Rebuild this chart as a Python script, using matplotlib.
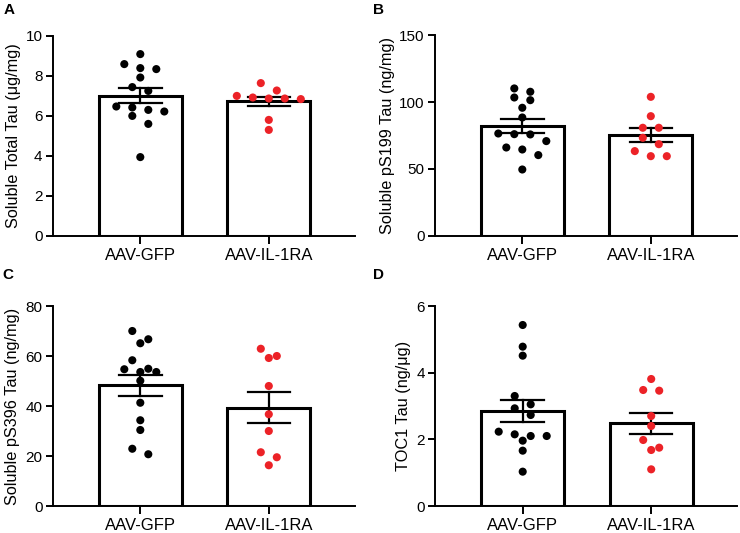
import numpy as np
import matplotlib.pyplot as plt

plt.rcParams['font.family'] = ['Liberation Sans', 'DejaVu Sans']

groups = ['AAV-GFP', 'AAV-IL-1RA']

# Panel A - soluble total tau (ug/mg)
total_gfp = [9.07, 8.57, 8.37, 8.32, 7.9, 7.42, 7.23, 6.45, 6.4, 6.28, 6.2, 5.98, 5.58, 3.92]
total_il = [7.62, 7.25, 6.98, 6.9, 6.85, 6.85, 6.82, 5.78, 5.28]

# Panel B - soluble pS199 tau (ng/mg)
ps199_gfp = [110.3, 107.8, 103.5, 101.5, 95.8, 88.5, 76.5, 76.0, 75.8, 70.8, 66.0, 64.5, 60.3, 49.5]
ps199_il = [104.0, 89.5, 80.8, 80.8, 73.3, 68.5, 63.3, 59.5, 59.5]

# Panel C - soluble pS396 tau (ng/mg)
ps396_gfp = [70.0, 66.7, 65.1, 58.3, 54.9, 54.7, 53.6, 53.6, 50.1, 41.3, 34.3, 30.4, 22.9, 20.7]
ps396_il = [62.9, 60.0, 59.2, 48.0, 36.7, 30.0, 21.5, 19.5, 16.3]

# Panel D - TOC1 tau (ng/ug)
toc1_gfp = [5.43, 4.78, 4.51, 3.3, 3.05, 2.93, 2.73, 2.23, 2.15, 2.1, 2.1, 1.96, 1.66, 1.03]
toc1_il = [3.81, 3.48, 3.46, 2.7, 2.4, 1.98, 1.75, 1.68, 1.1]

panels = [
    ('A', 'Soluble Total Tau (\u03bcg/mg)', total_gfp, total_il, 10, 2),
    ('B', 'Soluble pS199 Tau (ng/mg)', ps199_gfp, ps199_il, 150, 50),
    ('C', 'Soluble pS396 Tau (ng/mg)', ps396_gfp, ps396_il, 80, 20),
    ('D', 'TOC1 Tau (ng/\u03bcg)', toc1_gfp, toc1_il, 6, 2),
]

W, H = 740, 533
RED = '#EC2227'
XLIM = (-0.68, 1.67)
SPACING = 128.5          # px between the two bar centres
AX_H = 200               # axes height in px

# layout in pixels: first bar centre x, bottom y, ylabel right edge x, letter position
layout = {
    'A': (140.3, 235.5, 21, (9, 10)),
    'B': (522.3, 235.5, 395, (378, 10)),
    'C': (140.3, 506.0, 20, (8, 275)),
    'D': (522.7, 506.0, 411, (378, 275)),
}


def swarm_offsets(values, px_per_unit, row_px=8.5, gap=0.1245):
    # group points into rows (prism style) and centre each row
    values = np.asarray(values)
    order = np.argsort(values)[::-1]
    offsets = np.zeros(len(values))
    i = 0
    while i < len(order):
        top = values[order[i]]
        row = [order[i]]
        j = i + 1
        while j < len(order) and (top - values[order[j]]) * px_per_unit < row_px:
            row.append(order[j])
            j += 1
        n = len(row)
        for k, idx in enumerate(row):
            offsets[idx] = (k - (n - 1) / 2) * gap
        i = j
    return offsets


fig = plt.figure(figsize=(W / 100, H / 100), dpi=100)

for letter, ylabel, gfp, il, ymax, ystep in panels:
    c1, ybot, ylab_x, (lx, ly) = layout[letter]
    left = c1 - (0 - XLIM[0]) * SPACING
    width = (XLIM[1] - XLIM[0]) * SPACING
    ax = fig.add_axes([left / W, (H - ybot) / H, width / W, AX_H / H])

    px_per_unit = AX_H / ymax
    for i, (vals, col) in enumerate([(gfp, 'black'), (il, RED)]):
        vals = np.asarray(vals)
        mean = vals.mean()
        sem = vals.std(ddof=1) / np.sqrt(len(vals))
        ax.bar(i, mean, width=0.645, color='white', edgecolor='black',
               linewidth=2.2, zorder=1)
        ax.plot([i, i], [mean - sem, mean + sem], color='black', lw=1.6, zorder=2)
        for yy in (mean - sem, mean + sem):
            ax.plot([i - 0.165, i + 0.165], [yy, yy], color='black', lw=1.6, zorder=2)
        xs = i + swarm_offsets(vals, px_per_unit)
        ax.scatter(xs, vals, s=34, color=col, edgecolors='none', zorder=3)

    ax.set_xlim(*XLIM)
    ax.set_ylim(0, ymax)
    ax.set_yticks(np.arange(0, ymax + ystep / 2, ystep))
    ax.set_xticks([0, 1])
    ax.set_xticklabels(groups, fontsize=12)
    ax.tick_params(axis='y', labelsize=11, length=5, width=1.4, pad=2.5)
    ax.tick_params(axis='x', length=6, width=1.4, pad=3)
    for s in ['top', 'right']:
        ax.spines[s].set_visible(False)
    for s in ['left', 'bottom']:
        ax.spines[s].set_linewidth(1.4)
    ax.set_ylabel(ylabel, fontsize=11.7)
    ax.yaxis.set_label_coords((ylab_x - left) / width, 0.5)

    fig.text(lx / W, 1 - ly / H, letter, fontsize=11, fontweight='bold',
             ha='center', va='center')

plt.savefig('out.png', dpi=100)
